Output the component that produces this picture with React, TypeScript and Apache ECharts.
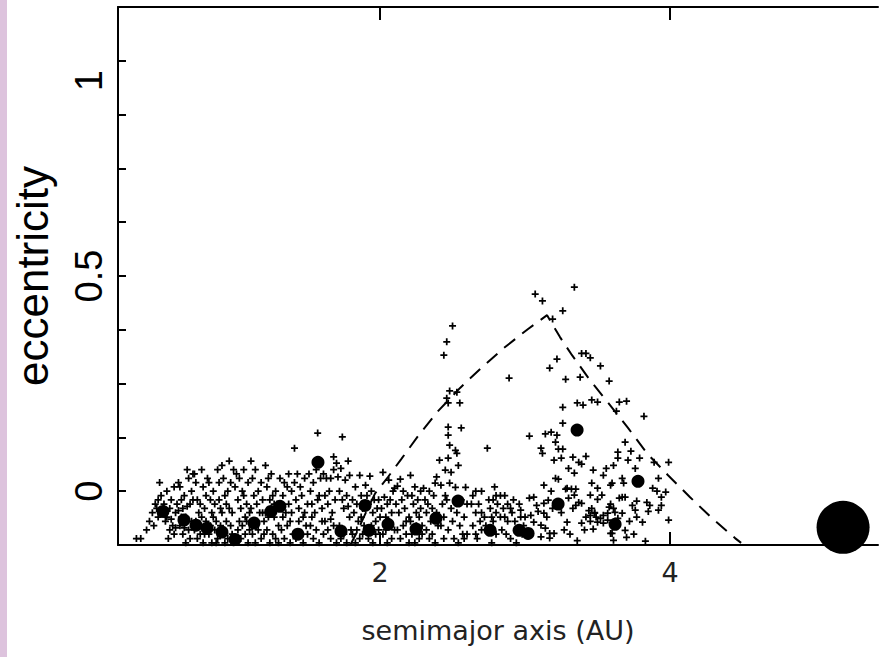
import React, { useEffect, useRef } from "react";
import * as echarts from "echarts";

// x (semimajor axis, AU) tick labels and y (eccentricity) tick labels
const xLabelValues = [2, 4];
const yLabelValues = [0, 0.5, 1];

// small bodies (plus markers): [semimajor axis AU, eccentricity]
const asteroids: [number, number][] = [
  [0.32,-0.11],[0.35,-0.11],[0.39,-0.09],[0.41,-0.07],[0.43,-0.05],[0.45,-0.03],[0.46,-0.04],[0.47,-0.02],[0.48,0.02],[0.49,-0.01],[0.44,-0.08],[0.47,-0.06],
  [0.51,-0.03],[0.53,0.0],[0.53,-0.06],[0.55,-0.04],[0.56,-0.02],[0.57,-0.08],[0.58,0.01],[0.59,-0.05],[0.55,-0.09],[0.52,-0.07],[0.6,-0.03],[0.58,-0.1],[0.54,-0.11],[0.56,-0.065],[0.59,-0.085],[0.51,-0.05],
  [0.61,0.02],[0.62,0.01],[0.63,-0.02],[0.64,-0.04],[0.65,-0.01],[0.66,-0.06],[0.67,0.05],[0.68,0.03],[0.69,-0.03],[0.7,0.0],[0.62,-0.08],[0.64,-0.1],[0.66,-0.12],[0.68,-0.09],[0.7,-0.07],[0.63,-0.06],[0.69,-0.11],[0.61,-0.045],[0.67,-0.035],[0.65,-0.085],
  [0.71,0.04],[0.72,0.04],[0.73,0.02],[0.74,-0.02],[0.75,-0.05],[0.76,-0.03],[0.77,0.05],[0.78,0.01],[0.79,-0.04],[0.8,-0.01],[0.72,-0.09],[0.74,-0.11],[0.76,-0.1],[0.78,-0.12],[0.8,-0.07],[0.73,-0.07],[0.77,-0.06],[0.79,-0.1],[0.71,-0.02],[0.75,-0.08],
  [0.81,0.03],[0.82,0.02],[0.83,-0.02],[0.84,-0.05],[0.85,0.0],[0.86,-0.03],[0.87,-0.07],[0.88,0.05],[0.89,0.02],[0.9,-0.04],[0.82,-0.1],[0.84,-0.12],[0.86,-0.09],[0.88,-0.11],[0.9,-0.08],[0.83,-0.08],[0.87,-0.12],[0.85,-0.06],[0.89,-0.02],
  [0.91,0.06],[0.92,0.03],[0.93,-0.01],[0.94,-0.03],[0.95,0.0],[0.96,0.07],[0.97,0.02],[0.98,-0.05],[0.99,0.05],[1.0,0.01],[0.92,-0.09],[0.94,-0.07],[0.95,-0.11],[0.97,-0.08],[0.99,-0.12],[0.93,-0.12],[0.98,-0.1],[0.91,-0.05],[0.96,-0.04],
  [1.01,0.04],[1.02,-0.02],[1.03,0.03],[1.04,-0.04],[1.05,0.0],[1.06,-0.01],[1.07,-0.06],[1.08,-0.03],[1.09,0.02],[1.1,-0.05],[1.02,-0.09],[1.04,-0.11],[1.05,-0.08],[1.07,-0.1],[1.09,-0.12],[1.1,-0.09],[1.03,-0.07],[1.06,0.05],[1.08,-0.07],
  [1.11,0.07],[1.12,0.03],[1.13,-0.01],[1.14,0.05],[1.15,-0.03],[1.16,0.0],[1.17,-0.05],[1.18,0.02],[1.19,-0.02],[1.2,-0.07],[1.12,-0.1],[1.14,-0.12],[1.16,-0.09],[1.18,-0.11],[1.2,-0.1],[1.15,-0.07],[1.11,-0.04],[1.19,-0.05],
  [1.21,0.06],[1.22,0.01],[1.23,0.03],[1.24,-0.02],[1.25,0.04],[1.26,-0.01],[1.27,-0.06],[1.28,0.0],[1.29,-0.03],[1.3,-0.08],[1.22,-0.09],[1.24,-0.12],[1.26,-0.1],[1.28,-0.11],[1.21,-0.05],[1.3,-0.12],[1.23,-0.06],[1.27,-0.03],
  [1.31,0.03],[1.33,-0.01],[1.34,0.02],[1.35,-0.05],[1.36,0.01],[1.37,-0.03],[1.38,-0.07],[1.39,0.0],[1.41,0.1],[1.32,-0.09],[1.34,-0.11],[1.36,-0.08],[1.38,-0.12],[1.4,-0.1],[1.33,-0.06],[1.37,0.04],[1.39,-0.05],
  [1.41,0.02],[1.42,-0.02],[1.43,0.04],[1.44,-0.04],[1.45,0.01],[1.46,-0.01],[1.47,-0.06],[1.48,0.03],[1.49,-0.08],[1.5,-0.03],[1.42,-0.11],[1.45,-0.1],[1.47,-0.12],[1.5,-0.1],[1.44,-0.07],[1.48,-0.05],
  [1.51,0.04],[1.52,0.0],[1.53,-0.03],[1.54,0.02],[1.55,-0.05],[1.56,0.05],[1.57,0.135],[1.58,-0.01],[1.59,0.03],[1.6,-0.04],[1.52,-0.08],[1.54,-0.11],[1.56,-0.09],[1.58,-0.12],[1.6,-0.07],[1.53,-0.06],[1.57,-0.02],
  [1.61,0.04],[1.63,0.03],[1.66,0.03],[1.68,0.08],[1.68,0.05],[1.7,0.065],[1.62,-0.01],[1.64,-0.03],[1.65,0.0],[1.67,-0.05],[1.69,-0.02],[1.62,-0.07],[1.64,-0.09],[1.66,-0.11],[1.68,-0.08],[1.7,-0.12],[1.61,-0.1],[1.66,-0.065],
  [1.74,0.126],[1.78,0.07],[1.73,0.053],[1.71,0.033],[1.76,0.026],[1.79,0.037],[1.72,0.0],[1.74,-0.02],[1.75,-0.04],[1.77,-0.01],[1.79,-0.06],[1.72,-0.08],[1.75,-0.1],[1.77,-0.12],[1.8,-0.09],[1.73,-0.11],[1.78,-0.035],
  [1.86,0.037],[1.83,0.01],[1.9,0.014],[1.81,-0.02],[1.82,-0.05],[1.84,-0.03],[1.85,-0.07],[1.87,-0.01],[1.88,-0.04],[1.89,-0.08],[1.81,-0.1],[1.83,-0.12],[1.86,-0.11],[1.88,-0.1],[1.84,-0.09],[1.87,-0.06],
  [1.93,0.035],[1.91,-0.01],[1.92,-0.03],[1.94,0.0],[1.95,-0.05],[1.96,-0.02],[1.97,-0.07],[1.98,-0.04],[1.99,-0.09],[1.92,-0.11],[1.95,-0.12],[1.97,-0.1],[2.0,-0.06],[1.94,-0.08],[1.99,-0.02],
  [2.02,0.044],[2.06,0.026],[2.09,0.0],[2.1,0.007],[2.03,-0.014],[2.01,-0.04],[2.04,-0.06],[2.05,-0.03],[2.07,-0.08],[2.08,-0.05],[2.02,-0.1],[2.05,-0.12],[2.08,-0.11],[2.1,-0.09],[2.04,-0.09],[2.07,-0.02],
  [2.14,0.028],[2.12,0.012],[2.16,0.0],[2.21,0.037],[2.11,-0.03],[2.13,-0.05],[2.15,-0.02],[2.17,-0.04],[2.18,-0.07],[2.19,-0.01],[2.12,-0.09],[2.14,-0.11],[2.16,-0.08],[2.18,-0.1],[2.2,-0.12],[2.2,-0.06],
  [2.3,0.007],[2.22,-0.01],[2.23,-0.03],[2.24,0.01],[2.25,-0.05],[2.26,-0.02],[2.27,-0.06],[2.28,-0.04],[2.29,-0.08],[2.22,-0.1],[2.24,-0.12],[2.27,-0.11],[2.29,-0.1],[2.25,-0.08],[2.21,-0.07],[2.28,0.0],
  [2.38,0.019],[2.39,0.033],[2.41,0.072],[2.31,-0.02],[2.32,-0.05],[2.33,-0.03],[2.34,0.0],[2.35,-0.07],[2.36,-0.04],[2.37,-0.01],[2.32,-0.09],[2.34,-0.11],[2.36,-0.1],[2.38,-0.12],[2.4,-0.08],[2.39,-0.05],
  [2.5,0.384],[2.46,0.347],[2.44,0.316],[2.48,0.233],[2.53,0.23],[2.46,0.216],[2.47,0.205],[2.55,0.205],[2.47,0.149],[2.56,0.147],[2.47,0.13],[2.48,0.107],[2.52,0.095],[2.53,0.088],[2.47,0.077],[2.54,0.06],[2.45,0.049],[2.49,0.044],[2.48,0.019],[2.42,0.014],[2.52,0.009],[2.59,0.009],
  [2.43,-0.03],[2.44,-0.06],[2.46,-0.02],[2.47,-0.09],[2.49,-0.04],[2.5,-0.07],[2.51,-0.11],[2.53,-0.05],[2.55,-0.08],[2.56,-0.02],[2.57,-0.1],[2.58,-0.06],[2.6,-0.03],[2.44,-0.11],[2.54,-0.12],[2.42,-0.08],[2.45,-0.01],
  [2.74,0.1],[2.64,-0.01],[2.66,0.0],[2.7,0.0],[2.63,-0.03],[2.68,-0.03],[2.66,-0.05],[2.7,-0.05],[2.72,-0.06],[2.69,-0.07],[2.64,-0.08],[2.73,-0.08],[2.7,-0.09],[2.66,-0.1],[2.67,-0.11],[2.6,-0.1],[2.58,-0.11],[2.76,-0.04],[2.78,-0.07],[2.8,-0.1],[2.77,-0.12],[2.75,-0.02],[2.79,0.01],
  [2.89,0.263],[2.8,-0.01],[2.83,-0.01],[2.78,-0.02],[2.81,-0.03],[2.86,-0.01],[2.88,-0.03],[2.85,-0.04],[2.8,-0.05],[2.77,-0.06],[2.83,-0.06],[2.86,-0.06],[2.9,-0.04],[2.91,-0.05],[2.88,-0.07],[2.93,-0.07],[2.84,-0.09],[2.87,-0.1],[2.9,-0.11],[2.95,-0.09],[2.97,-0.06],[2.98,-0.1],[2.94,-0.12],[2.96,-0.03],[2.99,-0.08],[2.92,-0.02],
  [3.07,0.458],[3.12,0.442],[3.19,0.4],[3.17,0.286],[3.03,0.128],[3.14,0.133],[3.18,0.137],[3.21,0.114],[3.11,0.1],[3.12,0.088],[3.2,0.072],[3.13,0.014],[3.18,0.0],[3.06,-0.014],[3.03,-0.016],[3.08,-0.033],[3.13,-0.028],[3.16,-0.021],[2.97,-0.044],[3.0,-0.06],[3.04,-0.056],[3.09,-0.047],[3.13,-0.051],[3.06,-0.072],[3.11,-0.079],[3.14,-0.086],[3.17,-0.098],[3.2,-0.098],[3.11,-0.106],[3.17,-0.109],[3.15,-0.06],[3.19,-0.04],
  [3.34,0.474],[3.26,0.419],[3.39,0.32],[3.42,0.32],[3.45,0.31],[3.22,0.307],[3.38,0.265],[3.28,0.26],[3.46,0.212],[3.5,0.207],[3.36,0.205],[3.4,0.2],[3.26,0.195],[3.26,0.158],[3.22,0.13],[3.23,0.098],[3.26,0.098],[3.25,0.077],[3.33,0.079],[3.42,0.081],[3.37,0.067],[3.39,0.063],[3.3,0.053],[3.34,0.042],[3.21,0.03],[3.23,0.028],[3.29,0.007],[3.32,0.005],[3.35,0.005],[3.45,-0.009],[3.46,0.019],[3.47,0.049],[3.5,0.007],
  [3.35,-0.033],[3.37,-0.026],[3.39,-0.028],[3.33,-0.04],[3.3,-0.016],[3.34,-0.009],[3.28,0.005],[3.29,-0.072],[3.39,-0.074],[3.47,-0.088],[3.5,-0.019],[3.53,-0.009],[3.25,-0.05],[3.27,-0.09],[3.31,-0.1],[3.36,-0.115],[3.42,-0.06],[3.44,-0.045],[3.48,-0.05],[3.41,-0.09],[3.45,-0.07],
  [3.52,0.291],[3.58,0.256],[3.65,0.207],[3.7,0.209],[3.63,0.186],[3.54,0.037],[3.56,0.053],[3.61,0.06],[3.64,0.077],[3.69,0.114],[3.67,0.03],[3.68,0.019],[3.59,0.014],
  [3.59,-0.03],[3.58,-0.037],[3.61,-0.04],[3.62,-0.049],[3.57,-0.051],[3.54,-0.056],[3.52,-0.063],[3.49,-0.06],[3.48,-0.051],[3.46,-0.04],[3.45,-0.056],[3.5,-0.072],[3.54,-0.074],[3.57,-0.067],[3.67,-0.051],[3.64,-0.063],[3.69,-0.091],[3.59,-0.098],[3.61,-0.114],[3.67,-0.014],[3.69,-0.014],[3.65,-0.016],
  [3.73,0.093],[3.79,0.077],[3.76,0.053],[3.82,0.174],[3.99,0.067],[3.89,0.067],[3.92,0.03],[3.88,0.007],[3.94,-0.014],[3.91,0.0],[3.99,-0.067],[3.94,-0.033],[3.92,-0.044],[3.85,-0.047],[3.86,-0.033],[3.81,-0.072],[3.77,-0.023],[3.83,-0.116],[3.74,-0.033],[3.76,-0.044],[3.77,-0.06],[3.72,-0.07],[3.75,-0.1],
  [3.64,0.091],[3.71,0.072],[3.6,0.019],[3.97,-0.002],[3.84,-0.026],[3.6,-0.098],[3.7,-0.107]
];

// larger bodies (filled dots)
const embryos: [number, number][] = [
  [0.503,-0.047],[0.648,-0.067],[0.731,-0.079],[0.807,-0.086],[0.91,-0.095],[1.0,-0.112],[1.131,-0.074],[1.248,-0.047],[1.31,-0.035],[1.434,-0.1],
  [1.572,0.067],[1.731,-0.093],[1.897,-0.033],[1.924,-0.091],[2.055,-0.077],[2.248,-0.088],[2.386,-0.063],[2.538,-0.023],[2.759,-0.091],[2.959,-0.091],
  [3.021,-0.098],[3.228,-0.03],[3.359,0.142],[3.621,-0.077],[3.779,0.023]
];

// giant planet
const jupiter: [number, number][] = [[5.193, -0.084]];

// dashed boundary curve
const boundaryCurve: [number, number][] = [
  [1.793,-0.126],[1.841,-0.095],[1.903,-0.049],[1.966,-0.005],[2.055,0.033],[2.145,0.074],[2.262,0.128],[2.4,0.186],[2.552,0.24],
  [2.697,0.286],[2.855,0.333],[3.021,0.377],[3.152,0.409],[3.241,0.358],[3.324,0.316],[3.448,0.258],[3.586,0.2],[3.71,0.147],
  [3.841,0.088],[3.986,0.037],[4.138,-0.014],[4.29,-0.063],[4.448,-0.109],[4.49,-0.12]
];

const PLUS = "path://M3,0H5V3H8V5H5V8H3V5H0V3H3Z";

export default function App() {
  const ref = useRef<HTMLDivElement>(null);
  useEffect(() => {
    if (!ref.current) return;
    const chart = echarts.init(ref.current, null, { renderer: "svg" });
    const axisLine = { show: true, onZero: false, lineStyle: { color: "#000", width: 2 } };
    const xCommon = {
      type: "value" as const,
      min: 0.193,
      max: 5.434,
      splitLine: { show: false },
      axisLine,
    };
    chart.setOption({
      animation: false,
      backgroundColor: "transparent",
      grid: { left: 118, right: 10, top: 7, bottom: 112, containLabel: false },
      xAxis: [
        {
          ...xCommon,
          position: "bottom",
          axisTick: { show: true, inside: true, length: 13, customValues: xLabelValues, lineStyle: { color: "#000", width: 2 } },
          axisLabel: {
            show: true,
            customValues: xLabelValues,
            formatter: (v: number) => String(v),
            fontFamily: "DejaVu Sans",
            fontSize: 27,
            color: "#222",
            margin: 14,
          },
          name: "semimajor axis (AU)",
          nameLocation: "middle",
          nameGap: 72,
          nameTextStyle: { fontFamily: "DejaVu Sans", fontSize: 27, color: "#222" },
        },
        {
          ...xCommon,
          position: "top",
          axisTick: { show: true, inside: true, length: 13, customValues: xLabelValues, lineStyle: { color: "#000", width: 2 } },
          axisLabel: { show: false },
        },
      ],
      yAxis: [
        {
          type: "value",
          position: "left",
          min: -0.125,
          max: 1.125,
          interval: 0.125,
          splitLine: { show: false },
          axisLine,
          axisTick: { show: true, inside: true, length: 8, lineStyle: { color: "#000", width: 2 } },
          axisLabel: {
            show: true,
            rotate: 90,
            margin: 10,
            fontFamily: "Liberation Sans",
            fontSize: 38,
            color: "#000",
            formatter: (v: number) => {
              if (v === yLabelValues[0]) return "0";
              if (v === yLabelValues[1]) return "0.5";
              if (v === yLabelValues[2]) return "{one|1}";
              return "";
            },
            rich: {
              one: { fontFamily: "Liberation Sans", fontSize: 38, color: "#000", padding: [0, 40, 0, 0] },
            },
          },
          name: "eccentricity",
          nameLocation: "middle",
          nameGap: 64,
          nameTextStyle: { fontFamily: "Liberation Sans", fontSize: 44, color: "#000" },
        },
      ],
      series: [
        {
          name: "asteroids",
          type: "scatter",
          data: asteroids,
          symbol: PLUS,
          symbolSize: 7,
          itemStyle: { color: "#000", opacity: 1 },
          clip: false,
          silent: true,
          z: 2,
        },
        {
          name: "boundary",
          type: "line",
          data: boundaryCurve,
          showSymbol: false,
          symbol: "none",
          lineStyle: { color: "#000", width: 2, type: [14, 9], opacity: 1 },
          clip: false,
          silent: true,
          z: 3,
        },
        {
          name: "embryos",
          type: "scatter",
          data: embryos,
          symbol: "circle",
          symbolSize: 13,
          itemStyle: { color: "#000", opacity: 1 },
          clip: false,
          silent: true,
          z: 4,
        },
        {
          name: "jupiter",
          type: "scatter",
          data: jupiter,
          symbol: "circle",
          symbolSize: 53,
          itemStyle: { color: "#000", opacity: 1 },
          clip: false,
          silent: true,
          z: 4,
        },
      ],
    });
    return () => chart.dispose();
  }, []);

  return (
    <div style={{ position: "fixed", left: 0, top: 0, width: 888, height: 657, background: "#fff" }}>
      <div style={{ position: "absolute", left: 0, top: 0, width: 7, height: 657, background: "#ddc3dd" }} />
      <div ref={ref} style={{ position: "absolute", left: 0, top: 0, width: 888, height: 657 }} />
    </div>
  );
}
